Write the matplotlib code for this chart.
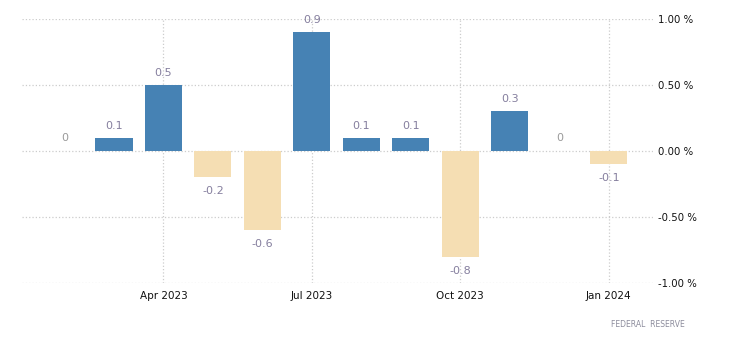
import numpy as np
import matplotlib.pyplot as plt

months = ['Feb 2023', 'Mar 2023', 'Apr 2023', 'May 2023', 'Jun 2023', 'Jul 2023',
          'Aug 2023', 'Sep 2023', 'Oct 2023', 'Nov 2023', 'Dec 2023', 'Jan 2024']
values = [0, 0.1, 0.5, -0.2, -0.6, 0.9, 0.1, 0.1, -0.8, 0.3, 0, -0.1]
tick_labels = ['Apr 2023', 'Jul 2023', 'Oct 2023', 'Jan 2024']
y_ticks = [-1.0, -0.5, 0.0, 0.5, 1.0]

x = np.arange(len(months))
colors = ['#4682b4' if v > 0 else '#f5deb3' for v in values]

fig = plt.figure(figsize=(7.3, 3.51), dpi=100)
ax = fig.add_axes([0.030, 0.194, 0.865, 0.752])

ax.bar(x, values, width=0.75, color=colors, zorder=2)

for xi, v in zip(x, values):
    if v > 0:
        ax.annotate(f'{v:g}', (xi, v), xytext=(0, 5), textcoords='offset points',
                    ha='center', va='bottom', fontsize=8, color='#857f9e')
    elif v < 0:
        ax.annotate(f'{v:g}', (xi, v), xytext=(0, -6.5), textcoords='offset points',
                    ha='center', va='top', fontsize=8, color='#857f9e')
    else:
        ax.annotate('0', (xi, v), xytext=(0, 9.5), textcoords='offset points',
                    ha='center', va='center', fontsize=8, color='#9a9a9a')

ax.set_xlim(-0.86, 11.9)
ax.set_ylim(-1.0, 1.0)
ax.set_xticks([months.index(t) for t in tick_labels])
ax.set_xticklabels(tick_labels, fontsize=7.5, color='#111111')
ax.set_yticks(y_ticks)
ax.set_yticklabels([f'{t:.2f} %' for t in y_ticks], fontsize=7.3, color='#111111')
ax.yaxis.tick_right()
ax.tick_params(axis='both', length=0, pad=6)
ax.tick_params(axis='y', pad=3)

ax.grid(True, linestyle=':', color='#cccccc', linewidth=0.9, zorder=0)
ax.set_axisbelow(True)
for s in ax.spines.values():
    s.set_visible(False)

fig.text(0.837, 0.068, 'FEDERAL  RESERVE', fontsize=5.5, color='#8c8c9c')

fig.savefig('out.png', dpi=100)
